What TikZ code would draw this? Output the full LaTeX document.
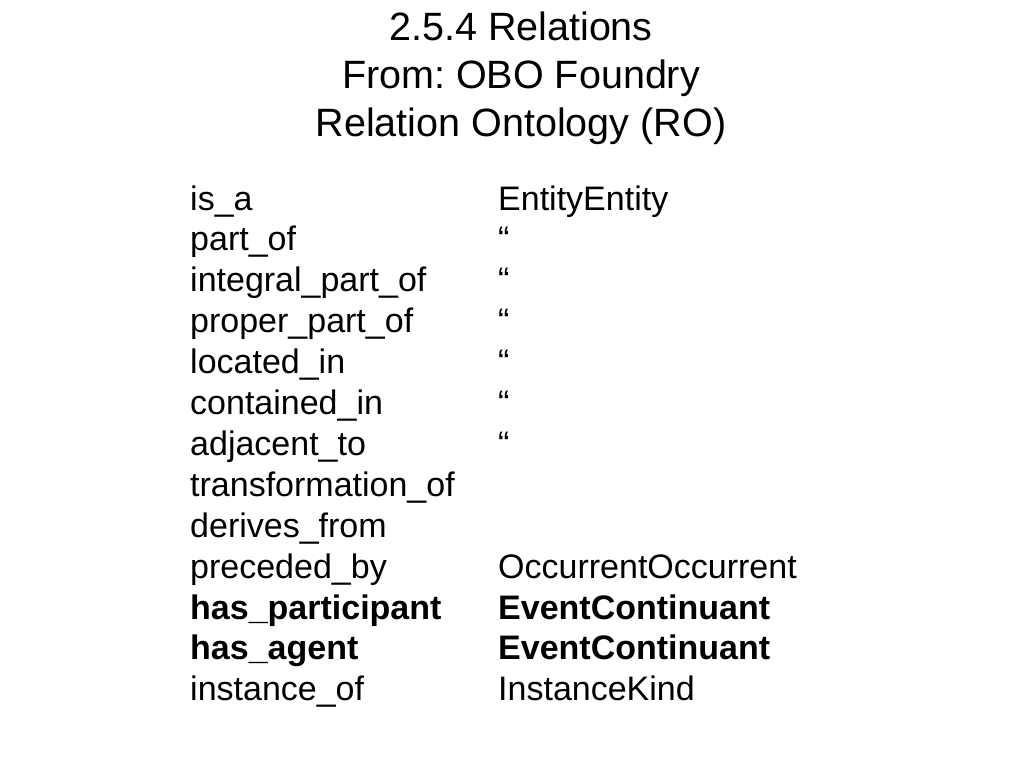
\documentclass[tikz,border=0pt]{standalone}
\usepackage{fontspec}
\setmainfont{Liberation Sans}
\begin{document}
\frenchspacing
\begin{tikzpicture}[x=1pt,y=-1pt,
  title/.style={anchor=base,inner sep=0pt,font=\fontsize{39.5}{44}\selectfont},
  cell/.style={anchor=base west,inner sep=0pt,font=\fontsize{34}{40}\selectfont},
  bcell/.style={cell,font=\fontsize{34}{40}\selectfont\bfseries}]
\useasboundingbox (0,0) rectangle (1024,768);
\node[title] (t1) at (521,41) {2.5.4 Relations};
\node[title] (t2) at (521,88) {From: OBO Foundry};
\node[title] (t3) at (521,136) {Relation Ontology (RO)};
\def\rowy#1{210+40.9*#1}
\node[cell] (r0) at (190,{\rowy{0}}) {is\_a};
\node[cell] (r1) at (190,{\rowy{1}}) {part\_of};
\node[cell] (r2) at (190,{\rowy{2}}) {integral\_part\_of};
\node[cell] (r3) at (190,{\rowy{3}}) {proper\_part\_of};
\node[cell] (r4) at (190,{\rowy{4}}) {located\_in};
\node[cell] (r5) at (190,{\rowy{5}}) {contained\_in};
\node[cell] (r6) at (190,{\rowy{6}}) {adjacent\_to};
\node[cell] (r7) at (190,{\rowy{7}}) {transformation\_of};
\node[cell] (r8) at (190,{\rowy{8}}) {derives\_from};
\node[cell] (r9) at (190,{\rowy{9}}) {preceded\_by};
\node[bcell] (r10) at (190,{\rowy{10}}) {has\_participant};
\node[bcell] (r11) at (190,{\rowy{11}}) {has\_agent};
\node[cell] (r12) at (190,{\rowy{12}}) {instance\_of};
\node[cell] (s0) at (498,{\rowy{0}}) {EntityEntity};
\node[cell] (s1) at (498,{\rowy{1}}) {“};
\node[cell] (s2) at (498,{\rowy{2}}) {“};
\node[cell] (s3) at (498,{\rowy{3}}) {“};
\node[cell] (s4) at (498,{\rowy{4}}) {“};
\node[cell] (s5) at (498,{\rowy{5}}) {“};
\node[cell] (s6) at (498,{\rowy{6}}) {“};
\node[cell] (s9) at (498,{\rowy{9}}) {OccurrentOccurrent};
\node[bcell] (s10) at (498,{\rowy{10}}) {EventContinuant};
\node[bcell] (s11) at (498,{\rowy{11}}) {EventContinuant};
\node[cell] (s12) at (498,{\rowy{12}}) {InstanceKind};
\end{tikzpicture}
\end{document}
